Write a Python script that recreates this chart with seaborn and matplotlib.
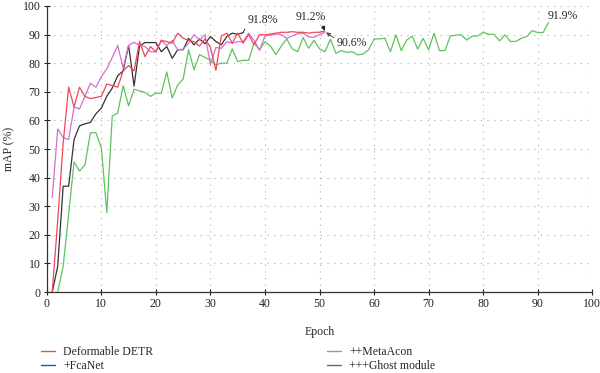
import matplotlib
matplotlib.use("Agg")
import matplotlib.pyplot as plt
import seaborn as sns
from matplotlib.lines import Line2D

# values
epochs_detr = list(range(1, 52))
detr = [0, 25, 52, 71.6, 64.7, 71.6, 68.4, 67.6, 68, 68.4,
        72.7, 72.2, 71.6, 77.3, 79.2, 77.3, 87.6, 82.3, 85.8, 84,
        88, 87.5, 87, 90.5, 88.7, 88, 87.5, 86, 88.5, 85.5,
        77.5, 89.5, 90.5, 87, 90.5, 87, 90, 86.5, 90, 89.9,
        90.2, 90.5, 90.8, 90.8, 91, 90.8, 90.8, 90.5, 90.8, 90.8, 91.3]

epochs_fca = list(range(1, 52))
fcanet = [33, 57, 54, 53.3, 64.7, 64, 68.5, 73, 71.6, 75.3,
          78, 82, 86.2, 78.3, 86.2, 87.3, 86.2, 85.8, 84, 84,
          87.9, 86.2, 87.9, 84.7, 84.9, 87, 90, 88, 90, 79.5,
          85.5, 85.2, 87.5, 87, 87.5, 87.5, 90.5, 88, 84.5, 89.5,
          89.8, 90.2, 90, 88.7, 89.5, 90.3, 90.5, 89.2, 89, 90, 90.8]

epochs_ghost = list(range(1, 37))
ghost = [0, 9, 37, 37, 53.3, 58.1, 58.8, 59.3, 62.3, 64.3,
         68.4, 71.3, 75.6, 77.3, 86.2, 72, 86, 87.2, 87.2, 87.2,
         84, 85.8, 81.7, 84.7, 84.7, 88.7, 86.4, 88.5, 86.8, 89.3,
         87.6, 86.4, 89.3, 90.5, 90.1, 90.7]

epochs_meta = list(range(2, 93))
metaacon = [0, 9, 27, 45.5, 42.3, 44.5, 55.7, 55.7, 50.5,
            27.8, 61.5, 62.6, 72.1, 65.1, 70.9, 70.3, 69.8, 68.4, 69.5,
            69.5, 76.9, 67.8, 72.4, 74.5, 84.7, 77.7, 83, 82, 81,
            79.4, 80, 80, 85, 80.6, 81, 81, 87, 84.7, 87.5,
            86, 83, 86, 88.5, 85, 84, 89, 85.2, 88, 85,
            84, 88.4, 83.5, 84.4, 83.8, 84, 82.9, 83.2, 84.7, 88.4,
            88.5, 88.7, 84, 89.9, 84.4, 88.1, 89.5, 84.9, 88.7, 84.7,
            90.5, 84.4, 84.4, 89.5, 89.8, 89.9, 88.1, 89.5, 89.5, 90.8,
            90.1, 90.1, 87.8, 89.9, 87.6, 87.6, 88.7, 89.3, 91.4, 90.7,
            90.7, 94.3]

ticks = list(range(0, 101, 10))

sns.set_theme(style="ticks")
plt.rcParams["font.family"] = ["Liberation Serif", "DejaVu Serif"]

fig = plt.figure(figsize=(6, 3.73), dpi=100)
ax = fig.add_axes([0.078, 0.217, 0.909, 0.767])

lw = 0.9
sns.lineplot(x=epochs_meta, y=metaacon, color="#5cc45c", lw=lw, ax=ax)
sns.lineplot(x=epochs_ghost, y=ghost, color="#333333", lw=lw, ax=ax)
sns.lineplot(x=epochs_fca, y=fcanet, color="#d36fcf", lw=lw, ax=ax)
sns.lineplot(x=epochs_detr, y=detr, color="#f0465a", lw=lw, ax=ax)

ax.set_xlim(0, 100)
ax.set_ylim(0, 100)
ax.set_xticks(ticks)
ax.set_yticks(ticks)
ax.tick_params(direction="inout", length=5, width=0.8, labelsize=8.5,
               colors="#222222", pad=2)
ax.grid(True, color="#ababab", lw=0.8, ls=(0, (1, 5)))
sns.despine(ax=ax)
for s in ["left", "bottom"]:
    ax.spines[s].set_color("#333333")
    ax.spines[s].set_linewidth(0.9)

ax.set_xlabel("Epoch", fontsize=8.5, labelpad=11)
ax.set_ylabel("mAP (%)", fontsize=8.5, labelpad=5)

fs = 8.5
ax.annotate("91.8%", xy=(36, 90.7), xytext=(36.8, 95.2), fontsize=fs,
            ha="left", va="center",
            arrowprops=dict(arrowstyle="-", color="#222222", lw=0.7,
                            relpos=(0.0, 0.2), shrinkA=0, shrinkB=0))
ax.annotate("91.2%", xy=(51, 91.3), xytext=(45.6, 96.3), fontsize=fs,
            ha="left", va="center",
            arrowprops=dict(arrowstyle="-|>", color="#222222", lw=0.7,
                            mutation_scale=6, relpos=(0.85, 0.0),
                            shrinkA=0, shrinkB=0))
ax.annotate("90.6%", xy=(51.2, 90.8), xytext=(53.2, 87.2), fontsize=fs,
            ha="left", va="center",
            arrowprops=dict(arrowstyle="-|>", color="#555555", lw=0.7,
                            mutation_scale=6, relpos=(0.0, 0.7),
                            shrinkA=0, shrinkB=0))
ax.text(91.8, 96.6, "91.9%", fontsize=fs, ha="left", va="center")

left_handles = [Line2D([], [], color="#f0465a", lw=1),
                Line2D([], [], color="#3048c0", lw=1)]
right_handles = [Line2D([], [], color="#5cc45c", lw=1),
                 Line2D([], [], color="#666666", lw=1)]
leg_kw = dict(loc="upper left", frameon=False, fontsize=8.5, handlelength=1.2,
              handletextpad=0.7, labelspacing=0.15, borderpad=0,
              borderaxespad=0)
fig.legend(left_handles, ["Deformable DETR", "+FcaNet"],
           bbox_to_anchor=(0.068, 0.072), **leg_kw)
fig.legend(right_handles, ["++MetaAcon", "+++Ghost module"],
           bbox_to_anchor=(0.545, 0.072), **leg_kw)

fig.savefig("out.png", dpi=100)
